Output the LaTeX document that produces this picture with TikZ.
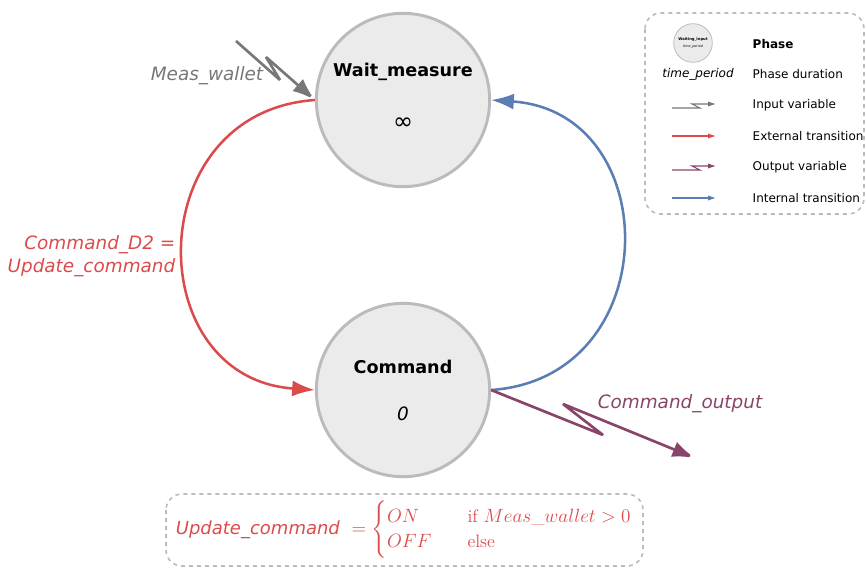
\documentclass[tikz,border=0pt]{standalone}
\usepackage{amsmath}
\usepackage{fontspec}
\usetikzlibrary{arrows.meta}
\newfontfamily\verd{DejaVu Sans}
\definecolor{extred}{HTML}{DB4B4B}
\definecolor{intblue}{HTML}{5B7DB3}
\definecolor{outviolet}{HTML}{884569}
\definecolor{ingray}{HTML}{777777}
\definecolor{phasefill}{HTML}{EBEBEB}
\definecolor{phaseline}{HTML}{BBBBBB}
\begin{document}
\begin{tikzpicture}[x=0.75pt, y=-0.75pt,
    >={Latex[length=17pt,width=12pt]},   %Voreinstellung für Pfeilspitzen
    font=\verd,
    phase/.style={circle, draw=phaseline, fill=phasefill, line width=2.2pt, minimum size=130pt, inner sep=0pt},
    title/.style={font=\verd\bfseries\fontsize{13.2}{15}\selectfont},
    lab/.style={font=\verd\itshape\fontsize{13.8}{17}\selectfont},
    leg/.style={font=\verd\fontsize{9}{11}\selectfont, anchor=west},
    box/.style={draw=phaseline, dashed, line width=1.2pt, rounded corners=12pt},
    zig/.style={line width=2pt, miter limit=2.5}]
    %Bildbereich
    \useasboundingbox (0,0) rectangle (866,568);
    % Phasen zeichnen
    \node[phase] (wait) at (403,100) {};
    \node[phase] (cmd) at (403,390) {};
    \node[title] (waitname) at (403,72) {Wait\_measure};
    \node[font=\verd\fontsize{18}{20}\selectfont] (waitdur) at (403,124) {∞};
    \node[title] (cmdname) at (403,367) {Command};
    \node[lab] (cmddur) at (403,414) {0};
    % Übergänge zeichnen
    \draw[->, extred, line width=1.9pt] (wait.west) .. controls (140,112) and (140,378) .. (cmd.west);
    \draw[->, intblue, line width=1.9pt] (cmd.east) .. controls (666,378) and (666,112) .. (wait.east);
    \node[lab, extred, align=right, anchor=east] (extlab) at (180,256) {Command\_D2 =\\Update\_command};
    % Eingang und Ausgang
    \coordinate (inA) at (236,41);
    \coordinate (inB) at (280,80);
    \coordinate (inC) at (266,57);
    \draw[->, ingray, zig] (inA) -- (inB) -- (inC) -- (wait.west);
    \node[lab, ingray] (inlab) at (207,76) {Meas\_wallet};
    \coordinate (outA) at (603,435);
    \coordinate (outB) at (563,404);
    \coordinate (outC) at (695,458);
    \draw[->, outviolet, zig] (cmd.east) -- (outA) -- (outB) -- (outC);
    \node[lab, outviolet] (outlab) at (680,404) {Command\_output};
    % Legende
    \draw[box] (645,13) rectangle (864,214);
    \node[circle, draw=phaseline, fill=phasefill, line width=0.6pt, minimum size=29pt, inner sep=0pt] (legphase) at (693,43) {};
    \node[font=\verd\bfseries\fontsize{2.8}{3}\selectfont] (legname) at (693,40) {Waiting\_Input};
    \node[font=\verd\itshape\fontsize{2.5}{3}\selectfont] (legdur) at (693,47) {time\_period};
    \node[font=\verd\itshape\fontsize{9}{11}\selectfont] (legtime) at (698,74) {time\_period};
    \node[leg, font=\verd\bfseries\fontsize{9}{11}\selectfont] (l1) at (748,44) {Phase};
    \node[leg] (l2) at (748,74) {Phase duration};
    \foreach \y/\t [count=\i from 3] in {105/Input variable, 136/External transition, 167/Output variable, 198/Internal transition}
        \node[leg] (l\i) at (748,\y) {\t};
    \draw[-{Latex[length=6pt,width=4pt]}, ingray, line width=0.8pt] (672,108) -- (700,108) -- (692,104) -- (716,104);
    \draw[-{Latex[length=6pt,width=4pt]}, extred, line width=0.8pt] (672,136) -- (716,136);
    \draw[-{Latex[length=6pt,width=4pt]}, outviolet, line width=0.8pt] (672,170) -- (700,170) -- (692,166) -- (716,166);
    \draw[-{Latex[length=6pt,width=4pt]}, intblue, line width=0.8pt] (672,198) -- (716,198);
    % Formel
    \draw[box] (166,494) rectangle (643,566);
    \node[extred, font=\fontsize{13.5}{16}\selectfont] (formula) at (404,530) {{\verd\itshape Update\_command}\ \ $= \begin{cases} ON &\quad \mathrm{if}\ Meas\_wallet > 0\\ OFF &\quad \mathrm{else}\end{cases}$};
\end{tikzpicture}
\end{document}
